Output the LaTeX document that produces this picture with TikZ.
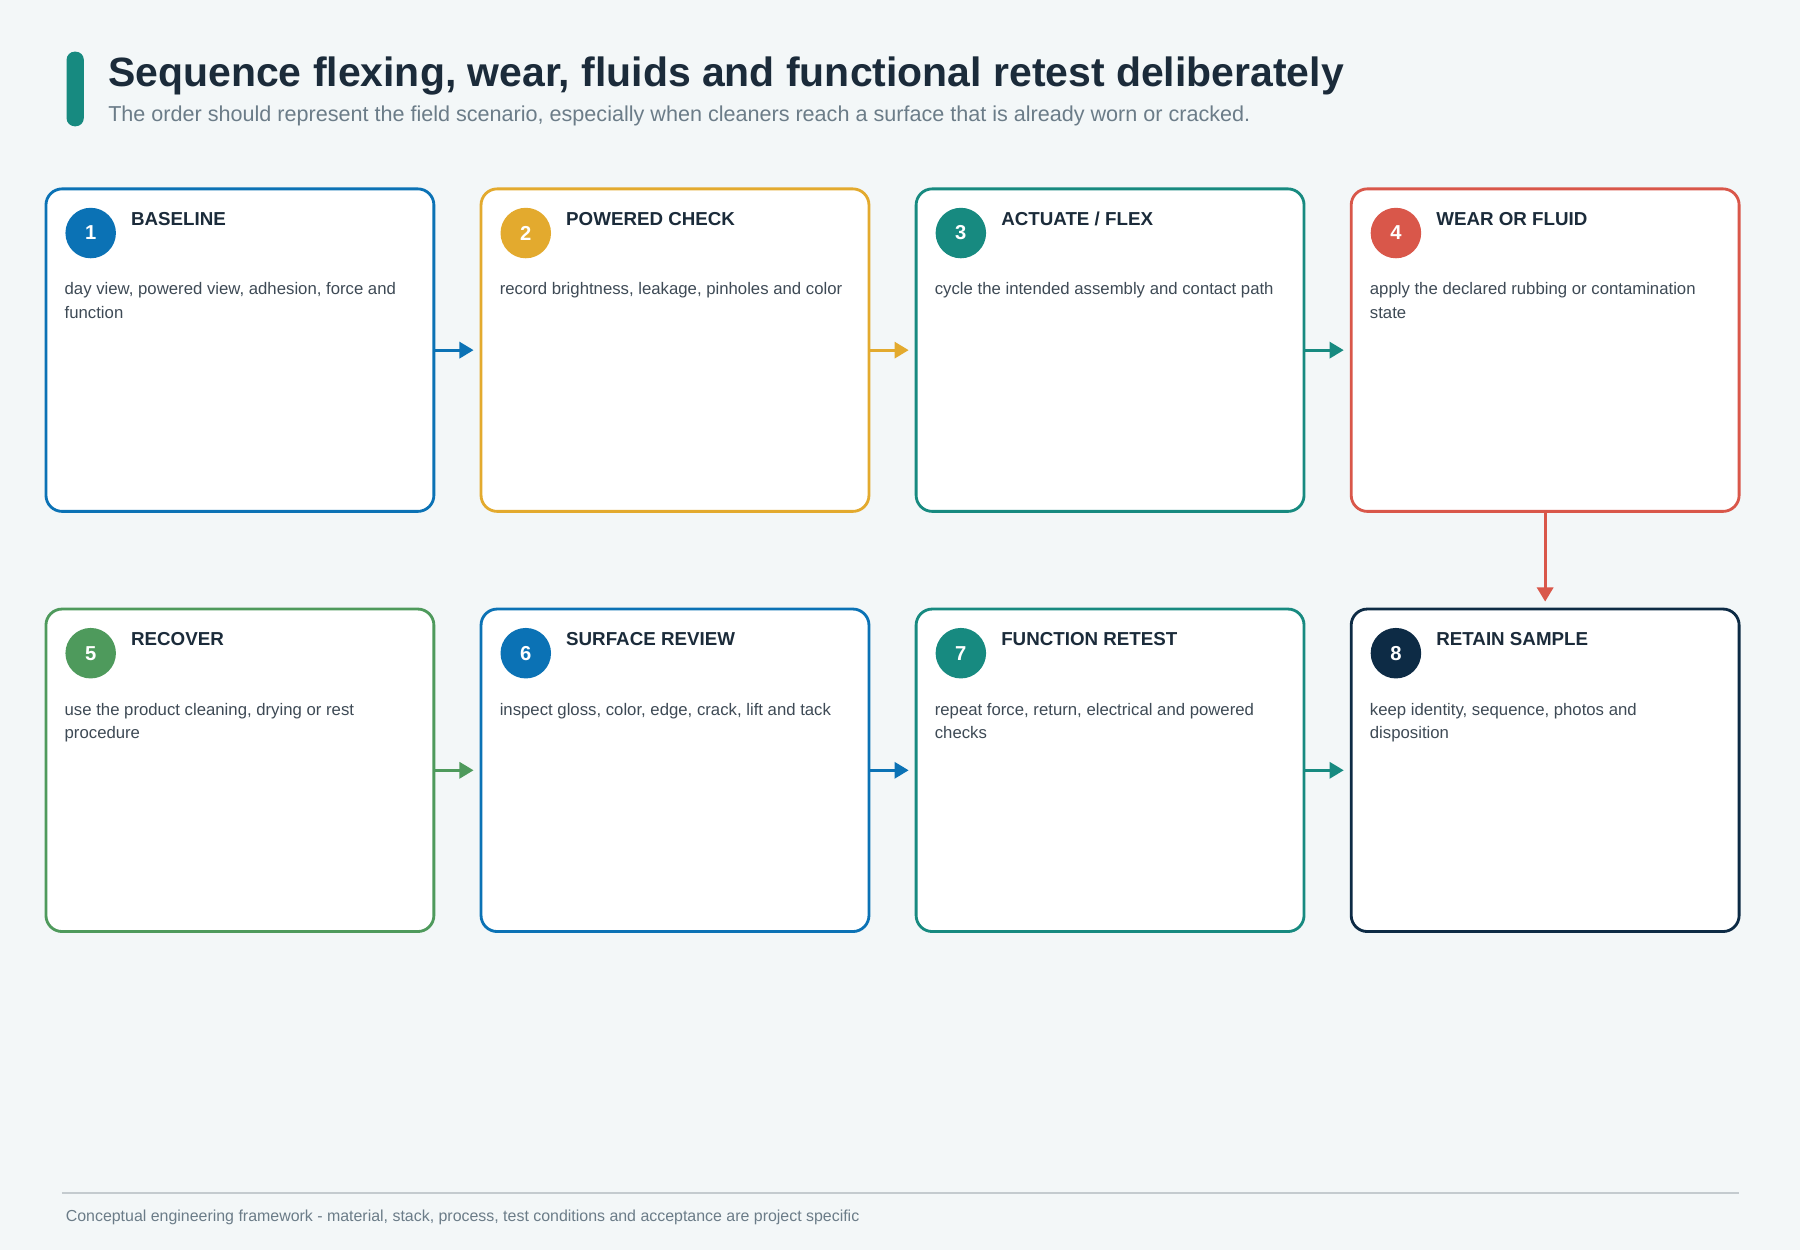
\documentclass[tikz,border=0pt]{standalone}
\usepackage{fontspec}
\setmainfont{Liberation Sans}
\usetikzlibrary{arrows.meta}
\definecolor{cblue}{HTML}{0B72B5}
\definecolor{cyellow}{HTML}{E3AA2E}
\definecolor{cteal}{HTML}{178A80}
\definecolor{cred}{HTML}{D9574A}
\definecolor{cgreen}{HTML}{4E9A5C}
\definecolor{cnavy}{HTML}{0D2B45}
\definecolor{bgcol}{HTML}{F3F7F8}
\definecolor{inkcol}{HTML}{1B2B3A}
\definecolor{subcol}{HTML}{6B7C88}
\definecolor{textcol}{HTML}{3E4A55}
\tikzset{
  step/.style={draw=#1, line width=1.4pt, fill=white, rounded corners=8pt,
    minimum width=6.76cm, minimum height=5.62cm, inner sep=0pt},
  badge/.style={circle, fill=#1, minimum size=0.88cm, inner sep=0pt,
    text=white, font=\fontsize{10}{12}\selectfont\bfseries},
  steptitle/.style={anchor=west, text=inkcol, font=\fontsize{9.3}{11}\selectfont\bfseries},
  stepbody/.style={anchor=north west, text=textcol, text width=6cm,
    align=flush left, font=\fontsize{8.3}{11.8}\selectfont, inner sep=0pt},
  flow/.style={draw=#1, line width=1.4pt, -{Triangle[length=7pt,width=8pt]}, shorten >=3pt}
}
\begin{document}
\begin{tikzpicture}[x=0.02cm, y=-0.02cm]
  % fond
  \fill[bgcol] (0,0) rectangle (1568,1089);
  \useasboundingbox (0,0) rectangle (1568,1089);

  % titre
  \fill[cteal, rounded corners=4pt] (58,45) rectangle (73,110);
  \node[anchor=base west, inner sep=0pt, text=inkcol, font=\fontsize{20.3}{22}\selectfont\bfseries]
    (title) at (94,75) {Sequence flexing, wear, fluids and functional retest deliberately};
  \node[anchor=base west, inner sep=0pt, text=subcol, font=\fontsize{10.7}{12}\selectfont]
    (subtitle) at (94,106) {The order should represent the field scenario, especially when cleaners reach a surface that is already worn or cracked.};

  % étapes
  \foreach \n/\x/\y/\c/\t/\b in {
    1/209/305/cblue/{BASELINE}/{day view, powered view, adhesion, force and function},
    2/588/305/cyellow/{POWERED CHECK}/{record brightness, leakage, pinholes and color},
    3/967/305/cteal/{ACTUATE / FLEX}/{cycle the intended assembly and contact path},
    4/1346/305/cred/{WEAR OR FLUID}/{apply the declared rubbing or contamination state},
    5/209/671/cgreen/{RECOVER}/{use the product cleaning, drying or rest procedure},
    6/588/671/cblue/{SURFACE REVIEW}/{inspect gloss, color, edge, crack, lift and tack},
    7/967/671/cteal/{FUNCTION RETEST}/{repeat force, return, electrical and powered checks},
    8/1346/671/cnavy/{RETAIN SAMPLE}/{keep identity, sequence, photos and disposition}}
  {
    \node[step=\c] (s\n) at (\x,\y) {};
    \node[badge=\c] (b\n) at (\x-130,\y-102) {\n};
    \node[steptitle] (t\n) at (\x-101,\y-114) {\t};
    \node[stepbody] (d\n) at (\x-153,\y-59) {\hyphenpenalty=10000 \b};
  }

  % flèches
  \draw[flow=cblue] (s1) -- (s2);
  \draw[flow=cyellow] (s2) -- (s3);
  \draw[flow=cteal] (s3) -- (s4);
  \draw[flow=cred] (s4) -- (s8);
  \draw[flow=cgreen] (s5) -- (s6);
  \draw[flow=cblue] (s6) -- (s7);
  \draw[flow=cteal] (s7) -- (s8);

  % pied de page
  \draw[draw=subcol!40, line width=0.8pt] (54,1039) -- (1515,1039);
  \node[anchor=base west, inner sep=0pt, text=subcol, font=\fontsize{7.9}{10}\selectfont]
    (footer) at (57,1064) {Conceptual engineering framework - material, stack, process, test conditions and acceptance are project specific};
\end{tikzpicture}
\end{document}
